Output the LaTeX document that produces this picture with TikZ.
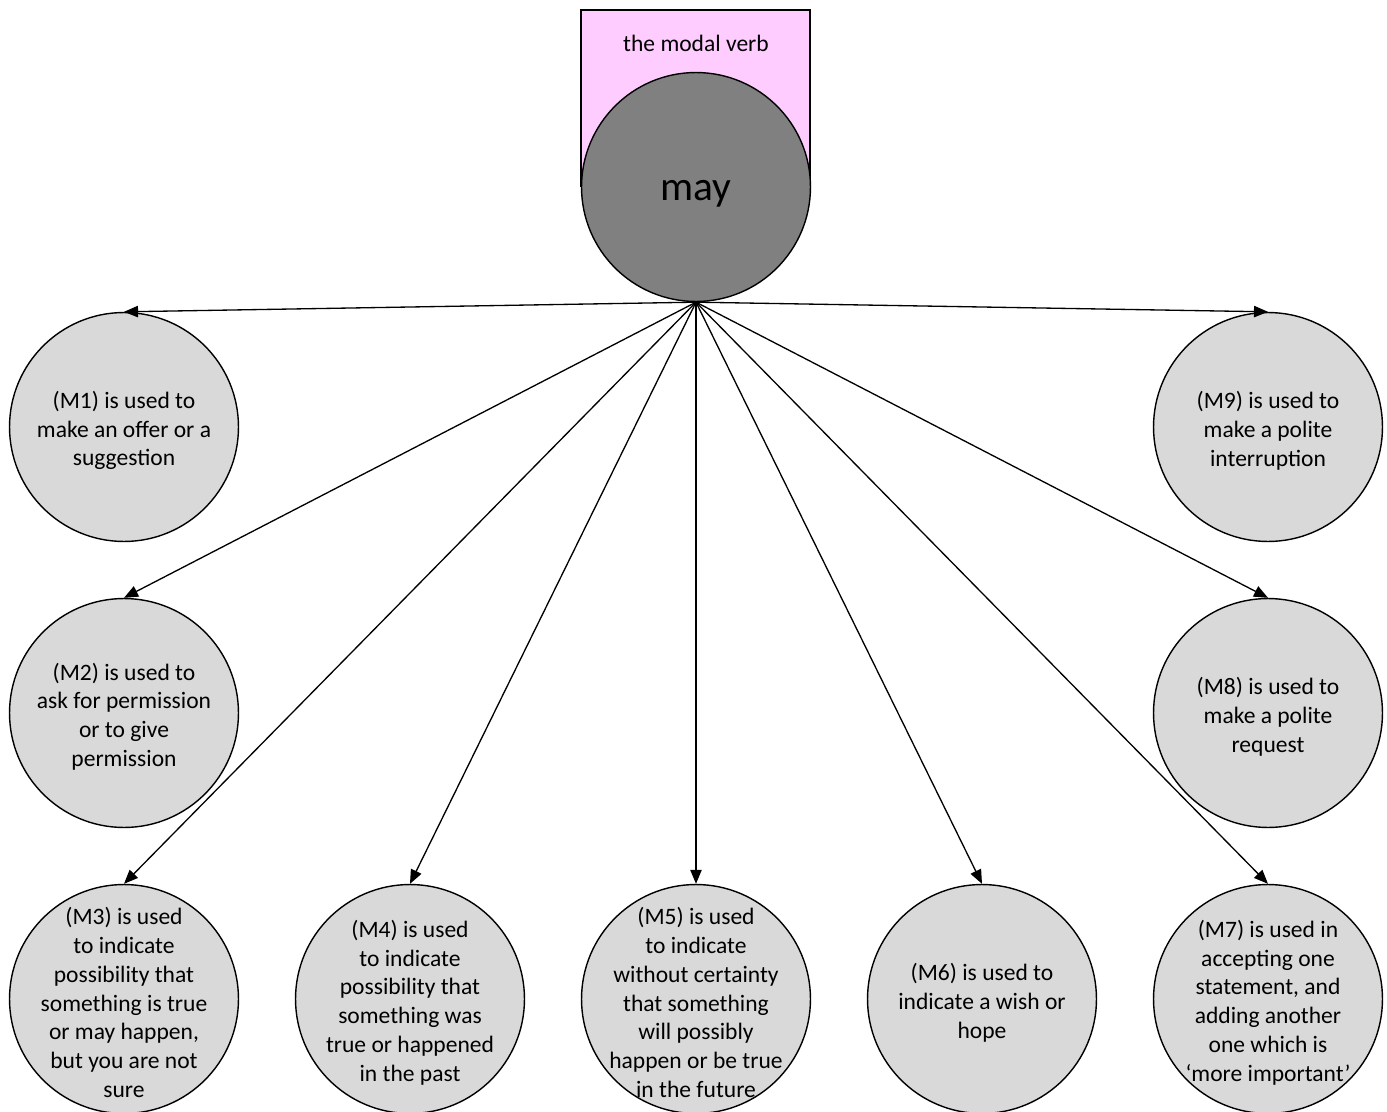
\documentclass[tikz,border=0pt]{standalone}
\usepackage{fontspec}
\setmainfont{Carlito}
\usepackage{tikz}
\usetikzlibrary{arrows.meta,positioning}

\definecolor{verbpink}{HTML}{FFCCFF}
\definecolor{verbgray}{HTML}{808080}
\definecolor{sensegray}{HTML}{D9D9D9}

\tikzset{
  sense/.style={circle,draw=black,fill=sensegray,line width=0.8pt,
    minimum size=4.58cm,inner sep=0pt},
  sensetext/.style={align=center,font=\fontsize{13.4}{16.4}\selectfont,inner sep=0pt,yshift=-2pt},
  link/.style={-{Triangle[length=8pt,width=6.5pt]},line width=0.75pt}
}

\begin{document}
\begin{tikzpicture}[x=0.02cm,y=-0.02cm]
\useasboundingbox (0,0) rectangle (1387,1112);
% header box and the verb
\draw[fill=verbpink,line width=0.8pt] (581,187) -- (581,10) -- (810,10) -- (810,187);
\node[align=center,font=\fontsize{13.4}{16.4}\selectfont,inner sep=0pt] (title) at (696,43) {the modal verb};
\node[circle,draw=black,fill=verbgray,line width=0.8pt,minimum size=4.58cm,inner sep=0pt,
  label={[inner sep=0pt,yshift=-4pt,font=\fontsize{23.6}{28}\selectfont]center:may}] (may) at (696,187) {};
% the nine senses
\node[sense,label={[sensetext]center:{(M1) is used to\\make an offer or a\\suggestion}}] (m1) at (124,427) {};
\node[sense,label={[sensetext]center:{(M2) is used to\\ask for permission\\or to give\\permission}}] (m2) at (124,713) {};
\node[sense,label={[sensetext]center:{(M3) is used\\to indicate\\possibility that\\something is true\\or may happen,\\but you are not\\sure}}] (m3) at (124,999) {};
\node[sense,label={[sensetext]center:{(M4) is used\\to indicate\\possibility that\\something was\\true or happened\\in the past}}] (m4) at (410,999) {};
\node[sense,label={[sensetext]center:{(M5) is used\\to indicate\\without certainty\\that something\\will possibly\\happen or be true\\in the future}}] (m5) at (696,999) {};
\node[sense,label={[sensetext]center:{(M6) is used to\\indicate a wish or\\hope}}] (m6) at (982,999) {};
\node[sense,label={[sensetext]center:{(M7) is used in\\accepting one\\statement, and\\adding another\\one which is\\‘more important’}}] (m7) at (1268,999) {};
\node[sense,label={[sensetext]center:{(M8) is used to\\make a polite\\request}}] (m8) at (1268,713) {};
\node[sense,label={[sensetext]center:{(M9) is used to\\make a polite\\interruption}}] (m9) at (1268,427) {};
% arrows out of the verb
\foreach \s in {m1,m2,m3,m4,m5,m6,m7,m8,m9}
  \draw[link] (may.south) -- (\s.north);
\end{tikzpicture}
\end{document}
